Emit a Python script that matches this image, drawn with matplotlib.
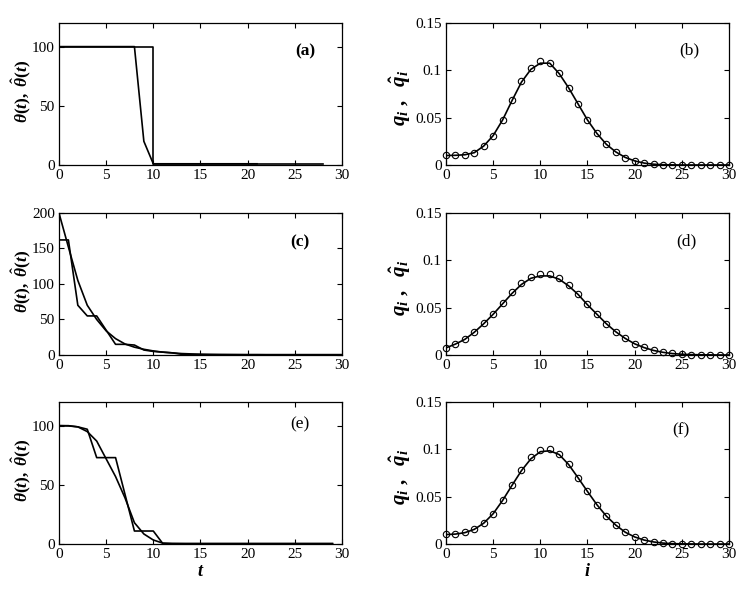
import numpy as np
import matplotlib
matplotlib.use("Agg")
import matplotlib.pyplot as plt

plt.rcParams["font.family"] = ["Liberation Serif", "DejaVu Serif"]
plt.rcParams["mathtext.fontset"] = "custom"
plt.rcParams["mathtext.it"] = "Liberation Serif:italic:bold"
plt.rcParams["mathtext.rm"] = "Liberation Serif:bold"
plt.rcParams["mathtext.bf"] = "Liberation Serif:bold"

# ---- panel (a): theta(t) and estimate ----
t_a1 = np.arange(0, 22)
theta_a1 = [100, 100, 100, 100, 100, 100, 100, 100, 100, 20, 1,
            1, 1, 1, 1, 1, 1, 1, 1, 1, 1, 1]
t_a2 = [0, 10, 10, 28]
theta_a2 = [100, 100, 1, 1]

# ---- panel (c) ----
t_c = np.arange(0, 31)
theta_c_est = [162, 162, 70, 55, 55, 35, 15, 15, 14, 7, 5, 4, 3, 1, 0.5,
               0.5, 0.5, 0.5, 0.5, 0.5, 0.5, 0.5, 0.5, 0.5, 0.5, 0.5,
               0.5, 0.5, 0.5, 0.5, 0.5]
theta_c_true = [200, 152, 105, 70, 50, 34, 23, 15.5, 11, 8, 5.7, 4, 3, 2,
                1.5, 1.1, 0.8, 0.6, 0.5, 0.4, 0.3, 0.3, 0.2, 0.2, 0.2,
                0.1, 0.1, 0.1, 0.1, 0.1, 0.1]

# ---- panel (e) ----
t_e = np.arange(0, 30)
theta_e_est = [100, 100, 99, 97, 73, 73, 73, 42, 11, 11, 11, 0.5, 0.5,
               0.5, 0.5, 0.5, 0.5, 0.5, 0.5, 0.5, 0.5, 0.5, 0.5, 0.5,
               0.5, 0.5, 0.5, 0.5, 0.5, 0.5]
theta_e_true = [100, 99.8, 99, 95, 87, 72, 57, 39, 18, 8.5, 3.4, 0.8, 0.3,
                0.2, 0.1, 0.1, 0.1, 0.1, 0.1, 0.1, 0.1, 0.1, 0.1, 0.1,
                0.1, 0.1, 0.1, 0.1, 0.1, 0.1]

# ---- panels (b), (d), (f): q_i ----
i_vals = np.arange(0, 31)
q_b_pts = [0.0103, 0.0103, 0.0107, 0.0128, 0.020, 0.031, 0.048, 0.069,
           0.0885, 0.102, 0.110, 0.108, 0.0967, 0.0814, 0.0647, 0.0476,
           0.0334, 0.0217, 0.0139, 0.0078, 0.0043, 0.0018, 0.0007, 0.0003,
           0.0002, 0.0001, 0.0001, 0, 0, 0, 0]
q_b_line = [0.0100, 0.0102, 0.0108, 0.0130, 0.0200, 0.0310, 0.0475, 0.0680,
            0.0875, 0.1010, 0.1075, 0.1075, 0.0965, 0.0815, 0.0645, 0.0475,
            0.0333, 0.0218, 0.0138, 0.0080, 0.0043, 0.0020, 0.0008, 0.0003,
            0.0001, 0, 0, 0, 0, 0, 0]
q_d_pts = [0.0077, 0.012, 0.0169, 0.0242, 0.0334, 0.0432, 0.0548, 0.066,
           0.0755, 0.0822, 0.086, 0.0854, 0.0815, 0.0738, 0.0643, 0.0534,
           0.0432, 0.033, 0.0242, 0.0179, 0.012, 0.0081, 0.0049, 0.0028,
           0.0018, 0.0007, 0.0003, 0.0002, 0.0001, 0, 0]
q_d_line = [0.0075, 0.0115, 0.0165, 0.0240, 0.0330, 0.0430, 0.0540, 0.0650,
            0.0745, 0.0810, 0.0835, 0.0835, 0.0800, 0.0730, 0.0640, 0.0530,
            0.0430, 0.0330, 0.0245, 0.0175, 0.0118, 0.0078, 0.0048, 0.0028,
            0.0015, 0.0008, 0.0004, 0.0002, 0.0001, 0, 0]
q_f_pts = [0.0105, 0.0108, 0.0122, 0.0154, 0.022, 0.0318, 0.0462, 0.0619,
           0.0783, 0.0916, 0.099, 0.1003, 0.0955, 0.0843, 0.070, 0.0556,
           0.0416, 0.0294, 0.0203, 0.0122, 0.0073, 0.0042, 0.0024, 0.001,
           0.0005, 0.0003, 0.0002, 0.0001, 0, 0, 0]
q_f_line = [0.0100, 0.0105, 0.0120, 0.0155, 0.0220, 0.0320, 0.0460, 0.0620,
            0.0775, 0.0900, 0.0975, 0.0985, 0.0945, 0.0840, 0.0700, 0.0555,
            0.0415, 0.0295, 0.0200, 0.0125, 0.0075, 0.0042, 0.0022, 0.0010,
            0.0004, 0.0002, 0.0001, 0, 0, 0, 0]

fig = plt.figure(figsize=(7.54, 5.96), dpi=100)

left_x = [0.0782, 0.5915]
row_y = [0.7232, 0.4044, 0.0872]
w, h = 0.3753, 0.2383

theta_label = r"$\theta(t),\ \hat{\theta}(t)$"
q_label = r"$q_i\ ,\ \ \hat{q}_i$"


def style(ax):
    ax.tick_params(direction="in", top=True, right=True, length=3.5,
                   width=0.8, labelsize=11, pad=3)
    for s in ax.spines.values():
        s.set_linewidth(0.9)
    ax.set_xlim(0, 30)
    ax.set_xticks(range(0, 31, 5))


lw = 1.2
thetas = [
    ([(t_a1, theta_a1), (t_a2, theta_a2)], 120, [0, 50, 100], "(a)", "bold", (0.87, 0.80)),
    ([(t_c, theta_c_est), (t_c, theta_c_true)], 200, [0, 50, 100, 150, 200], "(c)", "bold", (0.85, 0.79)),
    ([(t_e, theta_e_est), (t_e, theta_e_true)], 120, [0, 50, 100], "(e)", "normal", (0.85, 0.84)),
]
for r, (lines, ymax, yt, tag, fw, pos) in enumerate(thetas):
    ax = fig.add_axes([left_x[0], row_y[r], w, h])
    for x, y in lines:
        ax.plot(x, y, color="black", lw=lw)
    ax.set_ylim(0, ymax)
    ax.set_yticks(yt)
    style(ax)
    ax.set_ylabel(theta_label, fontsize=12.5)
    ax.yaxis.set_label_coords(-0.09, 0.52)
    ax.text(pos[0], pos[1], tag, transform=ax.transAxes, fontsize=12.5,
            fontweight=fw, ha="center", va="center")
    if r == 2:
        ax.set_xlabel(r"$t$", fontsize=13, labelpad=1)

qs = [
    (q_b_pts, q_b_line, "(b)", "normal", (0.86, 0.81)),
    (q_d_pts, q_d_line, "(d)", "normal", (0.85, 0.80)),
    (q_f_pts, q_f_line, "(f)", "normal", (0.83, 0.80)),
]
for r, (pts, line, tag, fw, pos) in enumerate(qs):
    ax = fig.add_axes([left_x[1], row_y[r], w, h])
    ax.plot(i_vals, line, color="black", lw=lw)
    ax.plot(i_vals, pts, "o", mfc="none", mec="black", ms=4.6, mew=0.8,
            clip_on=False)
    ax.set_ylim(0, 0.15)
    ax.set_yticks([0, 0.05, 0.1, 0.15])
    ax.set_yticklabels(["0", "0.05", "0.1", "0.15"])
    style(ax)
    ax.set_ylabel(q_label, fontsize=15)
    ax.yaxis.set_label_coords(-0.115, 0.47)
    ax.text(pos[0], pos[1], tag, transform=ax.transAxes, fontsize=12.5,
            fontweight=fw, ha="center", va="center")
    if r == 2:
        ax.set_xlabel(r"$i$", fontsize=13, labelpad=1)

fig.savefig("out.png", dpi=100)
